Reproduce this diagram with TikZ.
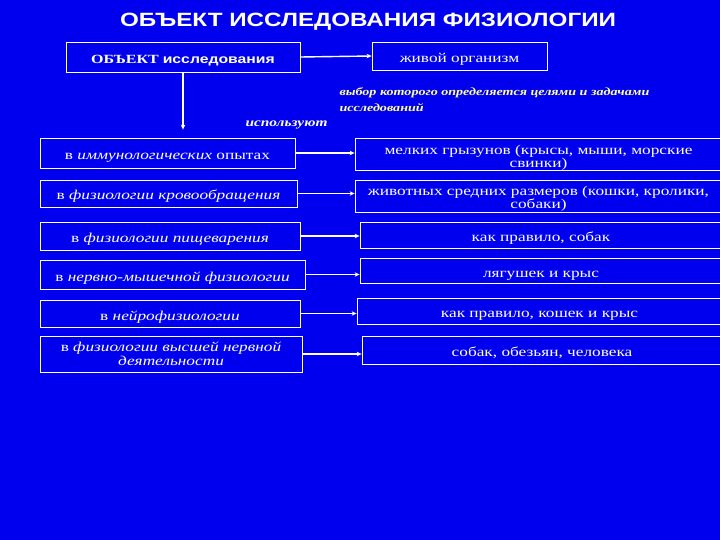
\documentclass[tikz,border=0pt]{standalone}
\usepackage{fontspec}
\setmainfont[FakeStretch=1.28]{Liberation Serif}
\setsansfont[FakeStretch=1.26]{Liberation Sans}
\usetikzlibrary{arrows.meta,positioning}
\definecolor{slidebg}{RGB}{0,0,238}
\definecolor{notecol}{RGB}{255,255,165}

\begin{document}
\begin{tikzpicture}[x=1pt, y=-1pt, font=\fontsize{13.5}{13}\selectfont,
  >={Stealth[length=5pt,width=4.5pt]},
  box/.style={draw=white, line width=0.8pt, text=white, align=center, inner sep=1pt},
  oneline/.style={box, text height=14.5pt, text depth=1.5pt},
  link/.style={draw=white, line width=1.4pt, ->}]
  \fill[slidebg] (0,0) rectangle (720,540);
  \useasboundingbox (0,0) rectangle (720,540);
  \node[text=white, font=\sffamily\bfseries\fontsize{19.2}{19.2}\selectfont] (title) at (368,22) {ОБЪЕКТ ИССЛЕДОВАНИЯ ФИЗИОЛОГИИ};
  \node[oneline, minimum width=234pt, minimum height=30pt, font=\fontsize{12.5}{12.5}\selectfont] (obj) at (183,57) {\textbf{ОБЪЕКТ} \textsf{\bfseries исследования}};
  \node[oneline, minimum width=175pt, minimum height=28pt] (org) at (459.5,56) {живой организм};
  % left column
  \node[oneline, minimum width=255pt, minimum height=30pt] (l1) at (167.5,153) {в \textit{иммунологических} опытах};
  \node[oneline, minimum width=257pt, minimum height=27pt] (l2) at (168.5,193.5) {в \textit{физиологии кровообращения}};
  \node[oneline, minimum width=260pt, minimum height=28pt] (l3) at (170,236) {в \textit{физиологии пищеварения}};
  \node[oneline, minimum width=265pt, minimum height=29pt] (l4) at (172.5,274.5) {в \textit{нервно-мышечной физиологии}};
  \node[oneline, minimum width=260pt, minimum height=27pt] (l5) at (170,313.5) {в \textit{нейрофизиологии}};
  \node[box, minimum width=262pt, minimum height=36pt, font=\fontsize{13.5}{13.5}\selectfont] (l6) at (171,354) {в \textit{физиологии высшей нервной}\\\textit{деятельности}};
  % right column
  \node[box, minimum width=367pt, minimum height=32pt, text height=28pt, text depth=1pt] (r1) at (538.5,154) {мелких грызунов (крысы, мыши, морские\\свинки)};
  \node[box, minimum width=367pt, minimum height=32pt, text height=27pt, text depth=1pt, font=\fontsize{13.5}{12.5}\selectfont] (r2) at (538.5,196) {животных средних размеров (кошки, кролики,\\собаки)};
  \node[oneline, minimum width=362pt, minimum height=26pt] (r3) at (541,235) {как правило, собак};
  \node[oneline, minimum width=362pt, minimum height=25pt] (r4) at (541,270.5) {лягушек и крыс};
  \node[oneline, minimum width=365pt, minimum height=26pt] (r5) at (539.5,311) {как правило, кошек и крыс};
  \node[oneline, minimum width=360pt, minimum height=28pt] (r6) at (542,350) {собак, обезьян, человека};
  % notes
  \node[text=white, font=\itshape\bfseries\fontsize{12}{12}\selectfont, anchor=east] (use) at (331,125) {используют};
  \node[text=notecol, font=\itshape\bfseries\fontsize{11}{16}\selectfont, align=left, anchor=north west] (choice) at (336,84) {выбор которого определяется целями и задачами\\исследований};
  \coordinate (down) at ([yshift=8pt]obj.south |- l1.north);
  % connectors
  \draw[link] (obj.east) -- (org.west);
  \draw[link] (obj.south) -- (down);
  \foreach \l/\r in {l1/r1,l2/r2,l3/r3,l4/r4,l5/r5,l6/r6}
    \draw[link] (\l.east) -- (\l.east -| \r.west);
\end{tikzpicture}
\end{document}
